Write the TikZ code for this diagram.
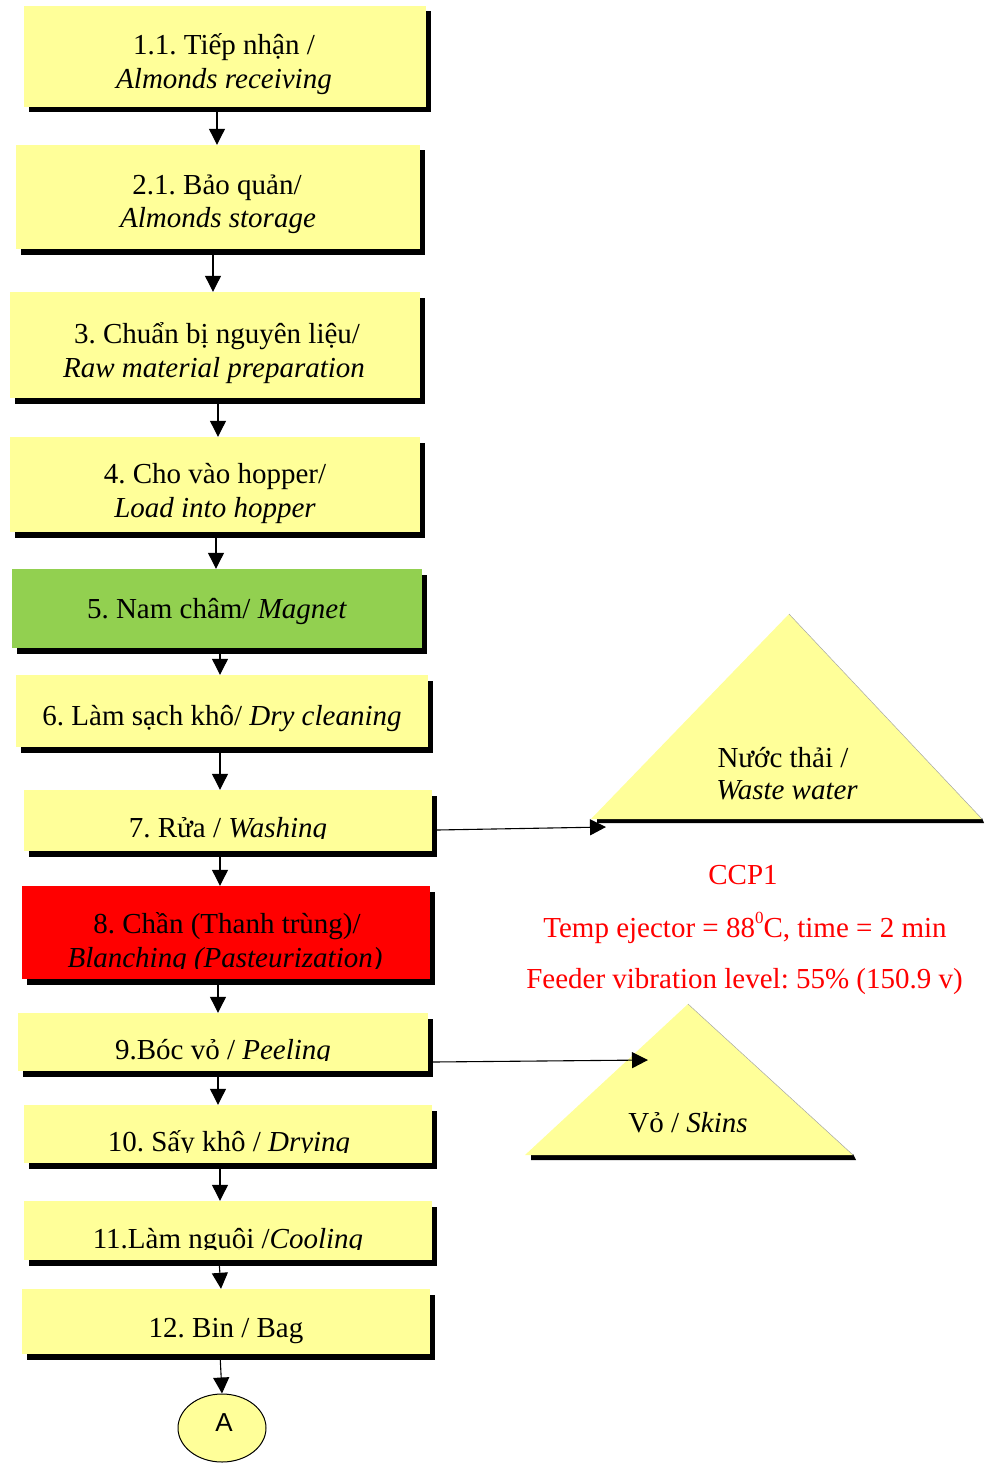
\documentclass[tikz,border=0pt]{standalone}
\usepackage{fontspec}
\setmainfont{Liberation Serif}[ItalicFont={Liberation Serif Italic},BoldFont={Liberation Serif Bold}]
\newfontfamily\sansA{Liberation Sans}
\frenchspacing
\usetikzlibrary{arrows.meta,shadows,fit,shapes.geometric}
\definecolor{byel}{HTML}{FFFF99}
\definecolor{bgreen}{HTML}{92D050}
\definecolor{bred}{HTML}{FF0000}
\tikzset{
  stepbox/.style={fill=byel, draw=none, inner sep=0pt,
    general shadow={fill=black, shadow xshift=5pt, shadow yshift=-5.5pt}},
  lbl/.style={anchor=base, inner sep=0pt, font=\fontsize{29}{34}\selectfont},
  redlbl/.style={lbl, text=bred},
  arr/.style={-{Triangle[width=16pt,length=16pt]}, line width=1.1pt},
  trishadow/.style={fill=black},
  trifill/.style={fill=byel},
  triedge/.style={draw=black!35, line width=0.5pt},
}
\begin{document}
\begin{tikzpicture}[x=1pt,y=-1pt]
\useasboundingbox (0,0) rectangle (987,1463);

% boxes
\node[stepbox, fit={(24,6) (426,107)}] (b1) {};
\node[stepbox, fit={(16,145) (420,249)}] (b2) {};
\node[stepbox, fit={(10,292) (420,398)}] (b3) {};
\node[stepbox, fit={(10,437) (420,532)}] (b4) {};
\node[stepbox, fill=bgreen, fit={(12,569) (422,648)}] (b5) {};
\node[stepbox, fit={(16,675) (428,747)}] (b6) {};
\node[stepbox, fit={(24,790) (432,851)}] (b7) {};
\node[stepbox, fill=bred, fit={(22,886) (430,979)}] (b8) {};
\node[stepbox, fit={(18,1013) (428,1071)}] (b9) {};
\node[stepbox, fit={(24,1105) (432,1163)}] (b10) {};
\node[stepbox, fit={(24,1201) (432,1260)}] (b11) {};
\node[stepbox, fit={(22,1289) (430,1354)}] (b12) {};
\node[ellipse, draw, line width=1pt, fill=byel, minimum width=88pt, minimum height=68pt, inner sep=0pt] (A) at (222,1428) {};
\node[anchor=base, inner sep=0pt, font=\sansA\fontsize{26}{30}\selectfont] (Atxt) at (224,1431) {A};

% box texts
\node[lbl] (t1a) at (224,55) {1.1. Tiếp nhận /};
\node[lbl] (t1b) at (224,89) {\itshape Almonds receiving};
\node[lbl] (t2a) at (217,195) {2.1. Bảo quản/};
\node[lbl] (t2b) at (218,228) {\itshape Almonds storage};
\node[lbl] (t3a) at (217,343) {3. Chuẩn bị nguyên liệu/};
\node[lbl] (t3b) at (214,377) {\itshape Raw material preparation};
\node[lbl] (t4a) at (215,483) {4. Cho vào hopper/};
\node[lbl] (t4b) at (215,517) {\itshape Load into hopper};
\node[lbl] (t5) at (217,618) {5. Nam châm/ \textit{Magnet}};
\node[lbl] (t6) at (222,725) {6. Làm sạch khô/ \textit{Dry cleaning}};
\begin{scope}
  \clip (24,790) rectangle (432,838);
  \node[lbl] (t7) at (228,837) {7. Rửa / \textit{Washing}};
\end{scope}
\node[lbl] (t8a) at (227,933) {8. Chần (Thanh trùng)/};
\begin{scope}
  \clip (22,940) rectangle (430,968);
  \node[lbl] (t8b) at (225,967) {\itshape Blanching (Pasteurization)};
\end{scope}
\begin{scope}
  \clip (18,1013) rectangle (428,1060);
  \node[lbl] (t9) at (223,1059) {9.Bóc vỏ / \textit{Peeling}};
\end{scope}
\begin{scope}
  \clip (24,1105) rectangle (432,1152);
  \node[lbl] (t10) at (229,1151) {10. Sấy khô / \textit{Drying}};
\end{scope}
\begin{scope}
  \clip (24,1201) rectangle (432,1249);
  \node[lbl] (t11) at (228,1248) {11.Làm nguội /\textit{Cooling}};
\end{scope}
\node[lbl] (t12) at (226,1337) {12. Bin / Bag};

% vertical connectors
\draw[arr] ([xshift=-8pt]b1.south) -- ([xshift=-1pt]b2.north);
\draw[arr] ([xshift=-5pt]b2.south) -- ([xshift=-2pt]b3.north);
\draw[arr] ([xshift=3pt]b3.south) -- ([xshift=3pt]b4.north);
\draw[arr] ([xshift=1pt]b4.south) -- ([xshift=-1pt]b5.north);
\draw[arr] ([xshift=3pt]b5.south) -- ([xshift=-2pt]b6.north);
\draw[arr] ([xshift=-2pt]b6.south) -- ([xshift=-8pt]b7.north);
\draw[arr] ([xshift=-8pt]b7.south) -- ([xshift=-6pt]b8.north);
\draw[arr] ([xshift=-8pt]b8.south) -- ([xshift=-5pt]b9.north);
\draw[arr] ([xshift=-5pt]b9.south) -- ([xshift=-10pt]b10.north);
\draw[arr] ([xshift=-8pt]b10.south) -- ([xshift=-8pt]b11.north);
\draw[arr] ([xshift=-9pt]b11.south) -- ([xshift=-5pt]b12.north);
\draw[arr] ([xshift=-6pt]b12.south) -- (A.north);

% waste water triangle
\path[trishadow] (597,818) -- (982,818) -- (984,823) -- (597,823) -- cycle;
\path[trifill] (789,614) -- (982,819) -- (591,819) -- cycle;
\draw[triedge] (789,614) -- (982,819);
\coordinate (wtip) at (606,827);
\node[lbl] (w1) at (783,767) {Nước thải /};
\node[lbl] (w2) at (787,799) {\itshape Waste water};

% skins triangle
\path[trishadow] (531,1154) -- (853,1154) -- (856,1160) -- (531,1160) -- cycle;
\path[trifill] (688,1004) -- (853,1155) -- (525,1155) -- cycle;
\draw[triedge] (688,1004) -- (853,1155);
\coordinate (stip) at (648,1060);
\node[lbl] (s1) at (688,1132) {Vỏ / \textit{Skins}};

% side connectors
\draw[arr] ([xshift=5pt,yshift=-9.5pt]b7.east) -- (wtip);
\draw[arr] ([xshift=5pt,yshift=-20pt]b9.east) -- (stip);

% CCP text
\node[redlbl] (c1) at (743,884) {CCP1};
\node[redlbl] (c2) at (745,937) {Temp ejector = 88\raisebox{0.45em}{\fontsize{17}{17}\selectfont 0}C, time = 2 min};
\node[redlbl] (c3) at (744.5,988) {Feeder vibration level: 55\% (150.9 v)};
\end{tikzpicture}
\end{document}
